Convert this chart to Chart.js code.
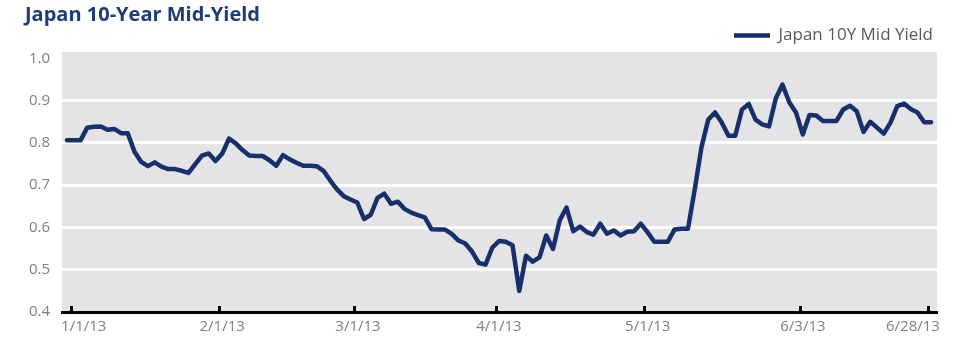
<!DOCTYPE html>
<html><head><meta charset="utf-8">
<script src="https://cdn.jsdelivr.net/npm/chart.js@4.4.0/dist/chart.umd.min.js"></script>
<style>html,body{margin:0;padding:0;background:#fff;overflow:hidden;}</style>
</head><body>
<canvas id="c" width="958" height="354" style="display:block;width:958px;height:354px;"></canvas>
<script>
// ---- data ----
const chartTitle = 'Japan 10-Year Mid-Yield';
const seriesName = 'Japan 10Y Mid Yield';
const yieldValues = [
  0.806, 0.806, 0.806, 0.836, 0.838, 0.839, 0.831, 0.833, 0.823, 0.823,
  0.779, 0.755, 0.745, 0.754, 0.744, 0.738, 0.738, 0.734, 0.729, 0.750,
  0.770, 0.775, 0.757, 0.775, 0.810, 0.799, 0.783, 0.770, 0.769, 0.769,
  0.759, 0.746, 0.771, 0.761, 0.753, 0.746, 0.746, 0.745, 0.734, 0.711,
  0.690, 0.674, 0.666, 0.659, 0.620, 0.630, 0.670, 0.680, 0.656, 0.661,
  0.644, 0.635, 0.629, 0.624, 0.596, 0.595, 0.595, 0.585, 0.569, 0.562,
  0.543, 0.516, 0.512, 0.552, 0.568, 0.566, 0.558, 0.450, 0.533, 0.519,
  0.529, 0.581, 0.549, 0.617, 0.647, 0.591, 0.602, 0.589, 0.583, 0.609,
  0.585, 0.593, 0.581, 0.590, 0.591, 0.609, 0.589, 0.566, 0.566, 0.566,
  0.595, 0.597, 0.597, 0.690, 0.790, 0.855, 0.872, 0.848, 0.817, 0.817,
  0.879, 0.892, 0.855, 0.844, 0.839, 0.905, 0.938, 0.896, 0.872, 0.820,
  0.866, 0.865, 0.852, 0.852, 0.852, 0.879, 0.888, 0.875, 0.826, 0.850,
  0.836, 0.822, 0.848, 0.887, 0.893, 0.880, 0.872, 0.849, 0.849
];
const tickLabels = ['1/1/13', '2/1/13', '3/1/13', '4/1/13', '5/1/13', '6/3/13', '6/28/13'];
const tickIndex = [0, 22, 42, 63, 85, 108, 127];
const yTicks = [0.4, 0.5, 0.6, 0.7, 0.8, 0.9, 1.0];

// ---- layout / style ----
const markShift = 0.55;                                   // tick mark offset (index units)
const labelNudge = [1.93, 0.44, 0.56, 0.44, 0.49, 0.47, -2.22]; // label offset from its mark
const NAVY = '#17306b';
const GREY_TXT = '#7f7f7f';
const PLOT_BG = '#e4e4e6';

const points = yieldValues.map((v, i) => ({x: i, y: v}));

const bgPlugin = {
  id: 'plotBg',
  beforeDraw(chart) {
    const a = chart.chartArea, ctx = chart.ctx;
    ctx.save();
    ctx.fillStyle = PLOT_BG;
    ctx.fillRect(a.left, a.top, a.right - a.left, a.bottom - a.top);
    ctx.restore();
  }
};
const tickMarkPlugin = {
  id: 'tickMarks',
  afterDraw(chart) {
    const xs = chart.scales.x, ctx = chart.ctx, b = chart.chartArea.bottom;
    ctx.save();
    ctx.strokeStyle = '#000';
    ctx.lineWidth = 3;
    tickIndex.forEach(i => {
      const px = Math.round(xs.getPixelForValue(i + markShift)) + 0.5;
      ctx.beginPath();
      ctx.moveTo(px, b);
      ctx.lineTo(px, b - 6);
      ctx.stroke();
    });
    ctx.restore();
  }
};
const legendGapPlugin = {
  id: 'legendGap',
  beforeInit(chart) {
    const origFit = chart.legend.fit;
    chart.legend.fit = function () {
      origFit.call(this);
      this.height -= 2;
    };
  },
  afterLayout(chart) {
    chart.legend.right -= 4;
  }
};

new Chart(document.getElementById('c'), {
  type: 'line',
  data: {
    datasets: [{
      label: seriesName,
      data: points,
      borderColor: NAVY,
      backgroundColor: NAVY,
      borderWidth: 4.5,
      pointRadius: 0,
      tension: 0,
      borderJoinStyle: 'round',
      borderCapStyle: 'round',
      fill: false
    }]
  },
  options: {
    responsive: false,
    animation: false,
    layout: {padding: {top: 0, left: 25, right: 21, bottom: 0}},
    plugins: {
      title: {
        display: true,
        text: chartTitle,
        align: 'start',
        color: '#1c3d78',
        font: {family: 'Open Sans', size: 20, weight: 'bold'},
        padding: {top: 3, bottom: 0}
      },
      legend: {
        display: true,
        position: 'top',
        align: 'end',
        labels: {
          usePointStyle: true,
          pointStyle: 'line',
          pointStyleWidth: 36,
          color: '#595959',
          font: {family: 'Open Sans', size: 17},
          padding: 0
        }
      },
      tooltip: {enabled: false}
    },
    scales: {
      x: {
        type: 'linear',
        min: -0.74,
        max: 128.89,
        afterBuildTicks(scale) {
          scale.ticks = tickIndex.map((v, k) => ({value: v + markShift + labelNudge[k]}));
        },
        afterFit(scale) { scale.height = 42; },
        ticks: {
          autoSkip: false,
          maxRotation: 0,
          color: GREY_TXT,
          font: {family: 'Open Sans', size: 15},
          padding: 6,
          callback: (value, idx) => tickLabels[idx]
        },
        grid: {display: false, drawTicks: false},
        border: {display: true, color: '#000', width: 3}
      },
      y: {
        min: 0.4,
        max: 1.015,
        afterBuildTicks(scale) {
          scale.ticks = yTicks.map(v => ({value: v}));
        },
        afterFit(scale) { scale.width = 37; },
        ticks: {
          color: GREY_TXT,
          font: {family: 'Open Sans', size: 15},
          padding: 12,
          callback: v => Number(v).toFixed(1)
        },
        grid: {
          drawTicks: false,
          lineWidth: 3,
          color: ctx => (ctx.tick && ctx.tick.value > 0.45 && ctx.tick.value < 0.95) ? '#ffffff' : 'rgba(0,0,0,0)'
        },
        border: {display: false}
      }
    }
  },
  plugins: [legendGapPlugin, bgPlugin, tickMarkPlugin]
});
</script>
</body></html>
